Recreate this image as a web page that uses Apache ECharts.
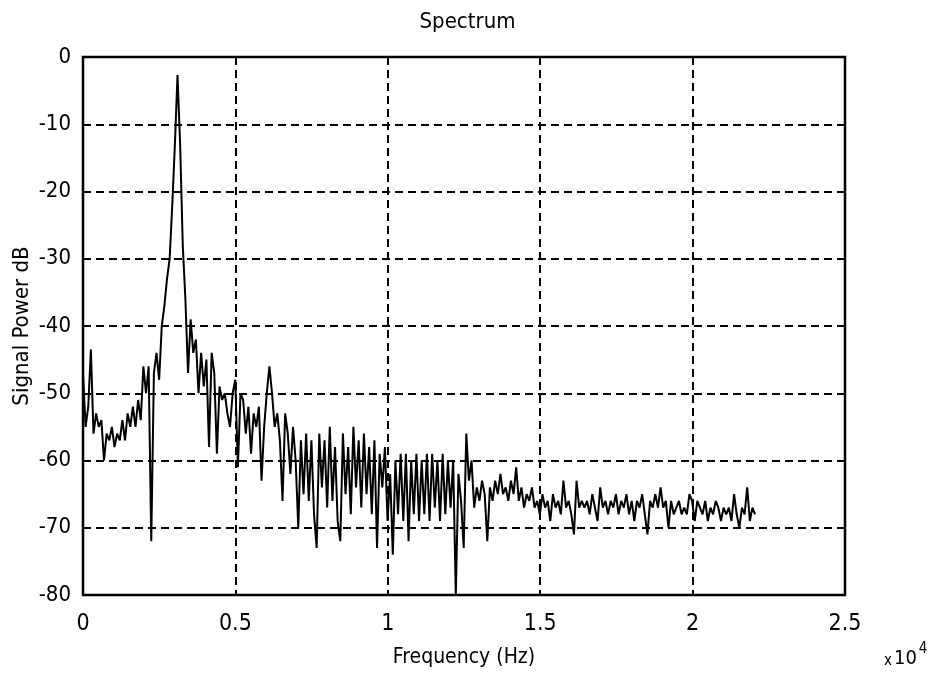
<!DOCTYPE html>
<html>
<head>
<meta charset="utf-8">
<script src="https://cdn.jsdelivr.net/npm/echarts@6/dist/echarts.min.js"></script>
<style>
  html, body { margin: 0; padding: 0; background: #fff; }
  #chart { width: 935px; height: 674px; }
</style>
</head>
<body>
<div id="chart"></div>
<script>
// Power spectrum of the recorded tone: one value per FFT bin (dB).
const sampleRate = 44100;
const fftSize = 512;
const binHz = sampleRate / fftSize;

const powerDb = [
  -47, -55, -52, -43.5, -56, -53, -55, -54, -60, -56,
  -57, -55, -58, -56, -57, -54, -57, -53, -55, -52,
  -55, -51, -54, -46, -50, -46, -72, -47, -44, -48,
  -40, -37, -33, -30, -22, -13, -2.7, -13, -28, -36,
  -47, -39, -44, -42, -50, -44, -49, -45, -58, -44,
  -47, -59, -49, -51, -50, -53, -55, -50, -48, -61,
  -50, -51, -56, -52, -59, -53, -55, -52, -63, -55,
  -50, -46, -50, -55, -53, -57, -66, -53, -56, -62,
  -55, -60, -70, -57, -65, -56, -66, -57, -68, -73,
  -56, -64, -57, -67, -55, -66, -58, -69, -72, -56,
  -65, -58, -68, -55, -64, -57, -67, -56, -65, -58,
  -68, -57, -73, -59, -64, -58, -69, -62, -74, -60,
  -68, -59, -69, -59, -72, -60, -68, -59, -69, -60,
  -68, -59, -69, -59, -67, -60, -69, -59, -68, -60,
  -67, -60, -80, -62, -66, -73, -56, -63, -60, -67,
  -64, -66, -63, -65, -72, -64, -66, -63, -65, -62,
  -65, -64, -66, -63, -65, -61, -66, -64, -67, -65,
  -66, -64, -67, -66, -68, -65, -67, -66, -69, -65,
  -67, -66, -68, -63, -67, -66, -68, -71, -63, -67,
  -66, -67, -66, -68, -65, -67, -69, -64, -67, -66,
  -68, -66, -67, -65, -68, -66, -67, -65, -68, -66,
  -69, -66, -67, -65, -68, -71, -66, -67, -65, -67,
  -64, -67, -66, -70, -66, -68, -67, -66, -68, -67,
  -68, -65, -66, -69, -66, -67, -68, -66, -69, -67,
  -68, -66, -67, -69, -67, -68, -67, -69, -65, -68,
  -70, -67, -68, -64, -69, -67, -68
];

const xTicks = [0, 0.5, 1, 1.5, 2, 2.5];   // in units of 10^4 Hz
const yTicks = [0, -10, -20, -30, -40, -50, -60, -70, -80];

const points = powerDb.map((v, k) => [k * binHz, v]);

const FONT = '"Liberation Sans Narrow", "DejaVu Sans Condensed", "Liberation Sans", sans-serif';
const gridLine = { show: true, lineStyle: { color: '#000', width: 2, type: [8, 5] } };

const chart = echarts.init(document.getElementById('chart'), null, { renderer: 'canvas' });
chart.setOption({
  backgroundColor: '#fff',
  animation: false,
  title: {
    text: 'Spectrum',
    left: 'center',
    top: 6,
    textStyle: { fontFamily: FONT, fontSize: 22, fontWeight: 'normal', color: '#000' }
  },
  grid: {
    left: 83, right: 90, top: 57, bottom: 79,
    outerBoundsMode: 'none',
    containLabel: false,
    show: true, borderColor: '#000', borderWidth: 2.5, backgroundColor: 'transparent'
  },
  xAxis: {
    type: 'value',
    min: 0, max: 25000, interval: 5000,
    name: 'Frequency (Hz)',
    nameLocation: 'middle',
    nameGap: 52,
    nameMoveOverlap: false,
    nameTextStyle: { fontFamily: FONT, fontSize: 21, color: '#000' },
    axisLine: { show: false },
    axisTick: { show: false },
    splitLine: gridLine,
    axisLabel: {
      margin: 18,
      fontFamily: FONT, fontSize: 23, color: '#000',
      formatter: v => {
        const t = v / 10000;
        return xTicks.includes(t) ? String(t) : '';
      }
    }
  },
  yAxis: {
    type: 'value',
    min: -80, max: 0, interval: 10,
    name: 'Signal Power dB',
    nameLocation: 'middle',
    nameGap: 50,
    nameMoveOverlap: false,
    nameTextStyle: { fontFamily: FONT, fontSize: 22, color: '#000' },
    axisLine: { show: false },
    axisTick: { show: false },
    splitLine: gridLine,
    axisLabel: {
      margin: 12,
      fontFamily: FONT, fontSize: 22, color: '#000',
      formatter: v => (yTicks.includes(v) ? String(v) : '')
    }
  },
  graphic: [{
    type: 'text',
    left: 884,
    top: 642,
    style: {
      text: '{x|x}{b|10}{s|4}',
      rich: {
        x: { fontFamily: FONT, fontSize: 15, fill: '#000', verticalAlign: 'bottom', padding: [0, 2, 0, 0] },
        b: { fontFamily: FONT, fontSize: 20, fill: '#000', verticalAlign: 'bottom' },
        s: { fontFamily: FONT, fontSize: 15, fill: '#000', verticalAlign: 'top', padding: [0, 0, 12, 2] }
      }
    }
  }],
  series: [{
    type: 'line',
    data: points,
    showSymbol: false,
    symbol: 'none',
    lineStyle: { color: '#000', width: 2 },
    z: 3
  }]
});
</script>
</body>
</html>
